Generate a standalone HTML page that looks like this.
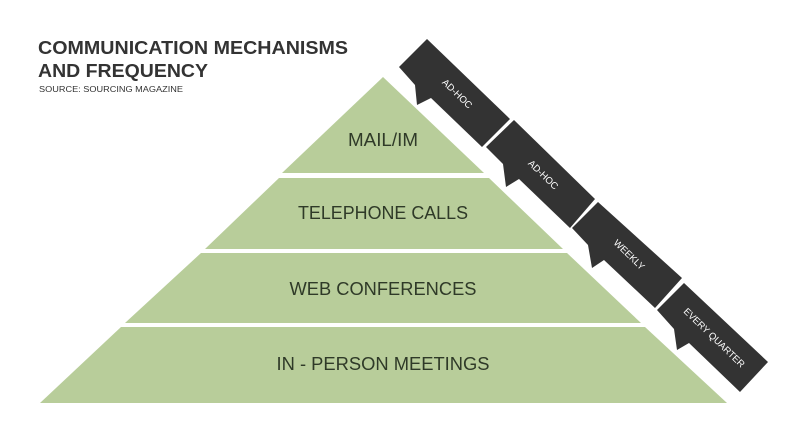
<!DOCTYPE html>
<html><head><meta charset="utf-8"><style>html,body{margin:0;padding:0;background:#fff;}svg{display:block}</style></head>
<body>
<svg width="795" height="436" viewBox="0 0 795 436" xmlns="http://www.w3.org/2000/svg" font-family="Liberation Sans, sans-serif">
<rect width="795" height="436" fill="#fff"/>
<text x="38" y="54" font-size="18" font-weight="bold" fill="#333" textLength="310" lengthAdjust="spacingAndGlyphs">COMMUNICATION MECHANISMS</text>
<text x="38" y="77" font-size="18" font-weight="bold" fill="#333" textLength="170" lengthAdjust="spacingAndGlyphs">AND FREQUENCY</text>
<text x="39" y="92" font-size="8" fill="#333" textLength="144" lengthAdjust="spacingAndGlyphs">SOURCE: SOURCING MAGAZINE</text>
<g fill="#b8cd9a">
<polygon points="383,77 484,173 282,173"/>
<polygon points="279,178 489,178 563,249 205,249"/>
<polygon points="201,253 567,253 641,323 125,323"/>
<polygon points="121,327 645,327 727,403 40,403"/>
</g>
<g font-size="18" fill="#2f3a28" text-anchor="middle">
<text x="383" y="146" textLength="70" lengthAdjust="spacingAndGlyphs">MAIL/IM</text>
<text x="383" y="219" textLength="170" lengthAdjust="spacingAndGlyphs">TELEPHONE CALLS</text>
<text x="383" y="295" textLength="187" lengthAdjust="spacingAndGlyphs">WEB CONFERENCES</text>
<text x="383" y="370" textLength="213" lengthAdjust="spacingAndGlyphs">IN - PERSON MEETINGS</text>
</g>
<g fill="#333">
<polygon points="399,67 427,39 510,119 482,147 431,98 417,105 415,85"/>
<polygon points="486,147 514,120 595,199 570,228 519,179 506,187 503,164"/>
<polygon points="572,228 598,202 682,278 655,308 604,260 592,268 588,245"/>
<polygon points="657,310 684,283 768,362 740,392 689,343 677,350 674,329"/>
</g>
<g font-size="9.5" fill="#fff" text-anchor="middle">
<text transform="translate(455,96) rotate(44)">AD-HOC</text>
<text transform="translate(541,177) rotate(44)">AD-HOC</text>
<text transform="translate(627,257) rotate(44)">WEEKLY</text>
<text transform="translate(712,340) rotate(44)">EVERY QUARTER</text>
</g>
</svg>
</body></html>
